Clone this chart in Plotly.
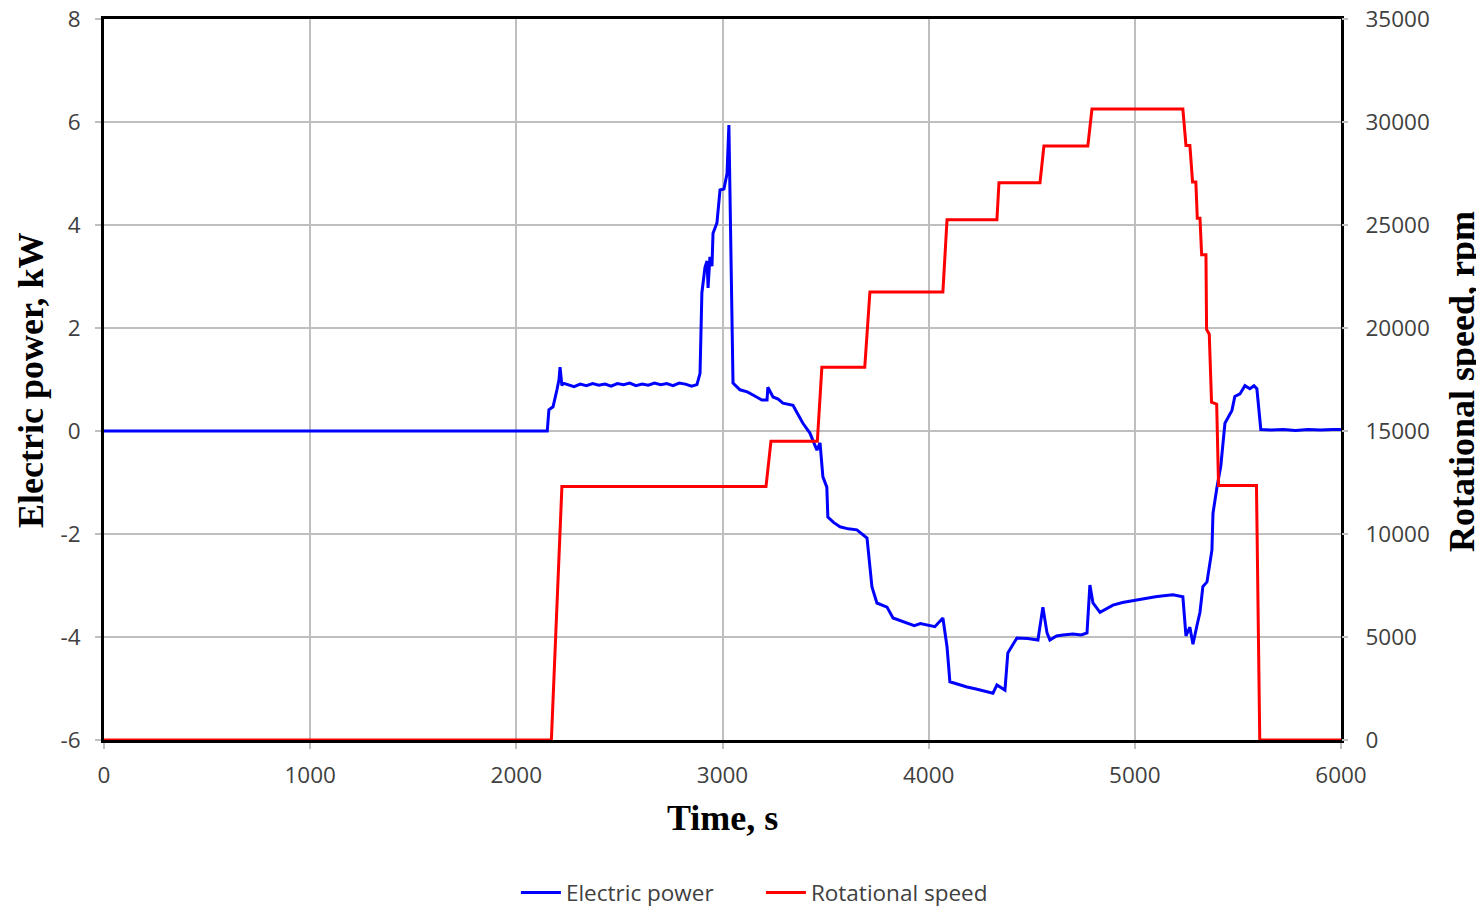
import plotly.graph_objects as go

# ---- Data ----
time_power = [0, 2150, 2158, 2178, 2197, 2207, 2212, 2221, 2226, 2250,
              2280, 2310, 2340, 2370, 2400, 2430, 2460, 2490, 2520, 2550,
              2580, 2610, 2640, 2670, 2700, 2730, 2760, 2790, 2820, 2850,
              2876, 2891, 2900, 2915, 2925, 2930, 2939, 2949, 2954, 2973,
              2988, 3007, 3022, 3031, 3051, 3085, 3120, 3148, 3191, 3216,
              3220, 3245, 3270, 3293, 3320, 3342, 3365, 3390, 3424, 3458,
              3473, 3487, 3506, 3511, 3540, 3570, 3610, 3652, 3701, 3725,
              3749, 3775, 3798, 3827, 3860, 3895, 3930, 3960, 3992, 4030,
              4069, 4089, 4103, 4140, 4186, 4230, 4270, 4312, 4331, 4370,
              4384, 4428, 4480, 4530, 4554, 4574, 4588, 4620, 4651, 4700,
              4740, 4768, 4782, 4797, 4831, 4860, 4894, 4940, 4980, 5020,
              5059, 5100, 5140, 5185, 5233, 5248, 5267, 5282, 5300, 5316,
              5330, 5350, 5374, 5379, 5398, 5417, 5437, 5471, 5485, 5510,
              5534, 5558, 5578, 5592, 5611, 5660, 5720, 5780, 5840, 5900,
              5960, 6000]
power_kw = [0.00, 0.00, 0.41, 0.47, 0.80, 1.00, 1.24, 0.88, 0.93, 0.90,
            0.86, 0.91, 0.88, 0.92, 0.89, 0.91, 0.87, 0.92, 0.90, 0.93,
            0.88, 0.91, 0.89, 0.93, 0.90, 0.92, 0.88, 0.93, 0.91, 0.87,
            0.90, 1.12, 2.68, 3.18, 3.30, 2.78, 3.38, 3.20, 3.84, 4.04,
            4.68, 4.70, 5.00, 5.94, 0.93, 0.80, 0.76, 0.70, 0.60, 0.60,
            0.85, 0.66, 0.62, 0.54, 0.52, 0.50, 0.33, 0.15, -0.04, -0.37,
            -0.23, -0.89, -1.09, -1.67, -1.78, -1.86, -1.90, -1.92, -2.08, -3.03,
            -3.34, -3.38, -3.42, -3.63, -3.68, -3.73, -3.78, -3.74, -3.77, -3.80,
            -3.63, -4.19, -4.87, -4.92, -4.97, -5.01, -5.05, -5.09, -4.93, -5.03,
            -4.31, -4.02, -4.03, -4.06, -3.42, -3.92, -4.06, -3.98, -3.96, -3.94,
            -3.96, -3.92, -2.99, -3.34, -3.52, -3.45, -3.38, -3.33, -3.30, -3.27,
            -3.24, -3.22, -3.20, -3.18, -3.22, -3.98, -3.81, -4.14, -3.80, -3.52,
            -3.02, -2.93, -2.31, -1.60, -1.10, -0.68, 0.15, 0.40, 0.67, 0.72,
            0.88, 0.82, 0.88, 0.82, 0.03, 0.02, 0.03, 0.01, 0.03, 0.02,
            0.03, 0.03]

time_speed = [0, 2170, 2221, 3211, 3235, 3460, 3482, 3690, 3715, 4069,
              4089, 4331, 4341, 4540, 4559, 4772, 4792, 5233, 5248, 5267,
              5280, 5296, 5303, 5316, 5324, 5345, 5348, 5361, 5372, 5397,
              5406, 5590, 5606, 6000]
speed_rpm = [0, 0, 12300, 12300, 14500, 14500, 18100, 18100, 21750, 21750,
             25250, 25250, 27050, 27050, 28830, 28830, 30630, 30630, 28860, 28860,
             27090, 27090, 25330, 25330, 23560, 23560, 19930, 19700, 16400, 16300,
             12350, 12350, 0, 0]

x_ticks = [0, 1000, 2000, 3000, 4000, 5000, 6000]
y_ticks = [-6, -4, -2, 0, 2, 4, 6, 8]
y2_ticks = [0, 5000, 10000, 15000, 20000, 25000, 30000, 35000]

series_names = ["Electric power", "Rotational speed"]
titles = {"x": "Time, s", "y": "Electric power, kW", "y2": "Rotational speed, rpm"}

# ---- Figure ----
tick_font = dict(family="Open Sans, Noto Sans, sans-serif", size=22.5, color="#404040")
title_font = dict(family="Liberation Serif, Times New Roman, serif", size=36, color="#000000")
grid_col = "#BFBFBF"

fig = go.Figure()
fig.add_trace(go.Scatter(x=time_power, y=power_kw, name=series_names[0], mode="lines",
                         line=dict(color="#0000FF", width=3), yaxis="y"))
fig.add_trace(go.Scatter(x=time_speed, y=speed_rpm, name=series_names[1], mode="lines",
                         line=dict(color="#FF0000", width=3), yaxis="y2"))

# the page body has an 8px margin, so the figure is 8px smaller and margins shifted
fig.update_layout(
    width=1476, height=901,
    margin=dict(l=96, r=143, t=11, b=169, autoexpand=False),
    paper_bgcolor="white", plot_bgcolor="white",
    showlegend=True,
    legend=dict(orientation="h", x=0.333, xanchor="left", y=-0.212, yanchor="middle",
                font=tick_font, bgcolor="rgba(0,0,0,0)", itemwidth=40,
                entrywidth=190, entrywidthmode="pixels", tracegroupgap=0),
    xaxis=dict(range=[0, 6000], tickvals=x_ticks, ticktext=[str(v) for v in x_ticks],
               showgrid=True, gridcolor=grid_col, automargin=False,
               gridwidth=1.5, zeroline=False, showline=True, linecolor="black",
               linewidth=3, mirror=True, ticks="outside", ticklen=6,
               tickcolor=grid_col, tickwidth=1.5, tickfont=tick_font,
               ticklabelstandoff=7, ticklabeloverflow="allow"),
    yaxis=dict(range=[-6, 8], tickvals=y_ticks, ticktext=[str(v) for v in y_ticks],
               showgrid=True, gridcolor=grid_col, automargin=False,
               gridwidth=1.5, zeroline=False, showline=True, linecolor="black",
               linewidth=3, mirror=True, ticks="outside", ticklen=6,
               tickcolor=grid_col, tickwidth=1.5, tickfont=tick_font,
               ticklabelstandoff=10, ticklabeloverflow="allow"),
    yaxis2=dict(range=[0, 35000], tickvals=y2_ticks, ticktext=[str(v) for v in y2_ticks],
                overlaying="y", side="right", automargin=False,
                showgrid=False, zeroline=False, showline=False, ticks="outside",
                ticklen=6, tickcolor=grid_col, tickwidth=1.5, tickfont=tick_font,
                ticklabelstandoff=13, ticklabeloverflow="allow"),
    annotations=[
        dict(text="<b>%s</b>" % titles["x"], xref="paper", yref="paper", x=0.5004, y=-0.108,
             xanchor="center", yanchor="middle", showarrow=False, font=title_font),
        dict(text="<b>%s</b>" % titles["y"], xref="paper", yref="paper", x=-0.059, y=0.4993,
             xanchor="center", yanchor="middle", showarrow=False, font=title_font,
             textangle=-90),
        dict(text="<b>%s</b>" % titles["y2"], xref="paper", yref="paper", x=1.0978, y=0.498,
             xanchor="center", yanchor="middle", showarrow=False, font=title_font,
             textangle=-90),
    ],
)

fig.write_html("out.html")
